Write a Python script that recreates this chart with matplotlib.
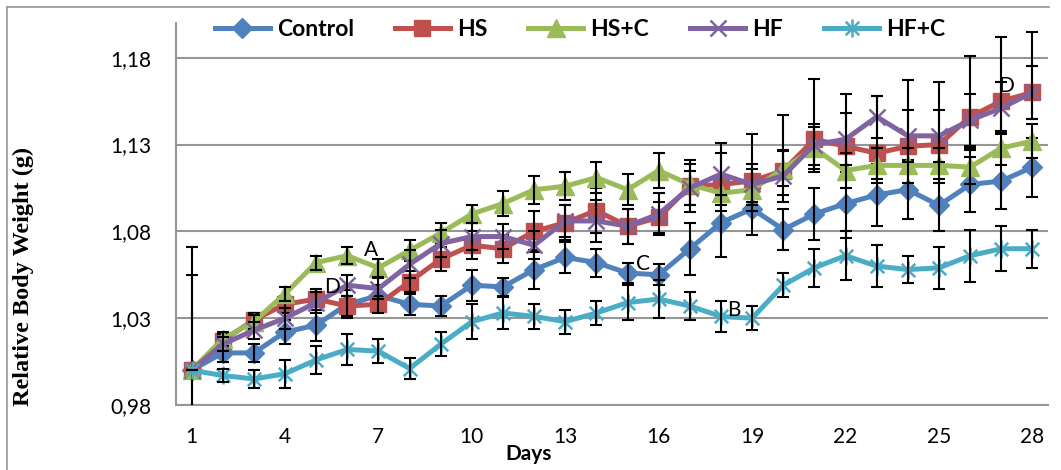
import numpy as np
import matplotlib
matplotlib.use('Agg')
import matplotlib.pyplot as plt
from matplotlib.path import Path
from matplotlib.lines import Line2D

# data
days = list(range(1, 29))

control = [1.000, 1.010, 1.010, 1.022, 1.026, 1.038, 1.043, 1.038, 1.037, 1.049,
           1.048, 1.058, 1.065, 1.062, 1.056, 1.055, 1.070, 1.085, 1.093, 1.081,
           1.090, 1.096, 1.101, 1.104, 1.095, 1.107, 1.109, 1.117]
hs = [1.000, 1.017, 1.029, 1.038, 1.041, 1.037, 1.038, 1.051, 1.064, 1.072,
      1.070, 1.080, 1.085, 1.092, 1.083, 1.088, 1.106, 1.107, 1.109, 1.115,
      1.133, 1.129, 1.125, 1.129, 1.130, 1.146, 1.155, 1.160]
hs_c = [1.000, 1.018, 1.028, 1.044, 1.062, 1.066, 1.059, 1.069, 1.079, 1.090,
        1.096, 1.104, 1.106, 1.111, 1.104, 1.115, 1.107, 1.102, 1.104, 1.116,
        1.128, 1.115, 1.118, 1.118, 1.118, 1.117, 1.128, 1.132]
hf = [1.000, 1.015, 1.023, 1.030, 1.039, 1.049, 1.047, 1.061, 1.073, 1.077,
      1.077, 1.072, 1.086, 1.086, 1.083, 1.090, 1.105, 1.113, 1.107, 1.112,
      1.130, 1.133, 1.146, 1.135, 1.135, 1.144, 1.151, 1.160]
hf_c = [1.000, 0.997, 0.995, 0.998, 1.006, 1.012, 1.011, 1.001, 1.015, 1.028,
        1.033, 1.031, 1.028, 1.033, 1.039, 1.041, 1.037, 1.031, 1.030, 1.049,
        1.059, 1.066, 1.060, 1.058, 1.059, 1.066, 1.070, 1.070]

control_err = [0.0, 0.005, 0.005, 0.007, 0.009, 0.008, 0.006, 0.006, 0.006, 0.009,
               0.005, 0.011, 0.009, 0.008, 0.006, 0.006, 0.015, 0.020, 0.015, 0.012,
               0.015, 0.020, 0.018, 0.017, 0.015, 0.016, 0.016, 0.017]
hs_err_up = [0.071, 0.004, 0.004, 0.005, 0.006, 0.006, 0.005, 0.006, 0.007, 0.008,
             0.008, 0.012, 0.010, 0.013, 0.010, 0.009, 0.015, 0.024, 0.027, 0.032,
             0.035, 0.030, 0.033, 0.038, 0.036, 0.035, 0.037, 0.035]
hs_err_low = [0.071, 0.004, 0.004, 0.005, 0.006, 0.006, 0.005, 0.006, 0.007, 0.008,
              0.008, 0.012, 0.010, 0.013, 0.010, 0.009, 0.015, 0.012, 0.012, 0.014,
              0.019, 0.015, 0.015, 0.015, 0.015, 0.018, 0.018, 0.015]
hs_c_err = [0.0, 0.004, 0.004, 0.004, 0.004, 0.005, 0.005, 0.006, 0.006, 0.005,
            0.007, 0.008, 0.008, 0.009, 0.009, 0.010, 0.012, 0.010, 0.012, 0.010,
            0.012, 0.010, 0.010, 0.010, 0.010, 0.010, 0.010, 0.010]
hf_err = [0.055, 0.004, 0.005, 0.006, 0.006, 0.006, 0.006, 0.008, 0.008, 0.008,
          0.007, 0.008, 0.009, 0.012, 0.010, 0.012, 0.010, 0.012, 0.012, 0.015,
          0.012, 0.015, 0.012, 0.015, 0.015, 0.015, 0.015, 0.015]
hf_c_err = [0.0, 0.004, 0.005, 0.008, 0.008, 0.009, 0.007, 0.006, 0.007, 0.010,
            0.009, 0.007, 0.007, 0.007, 0.010, 0.011, 0.008, 0.009, 0.007, 0.007,
            0.011, 0.014, 0.012, 0.008, 0.012, 0.015, 0.013, 0.011]

names = ['Control', 'HS', 'HS+C', 'HF', 'HF+C']
colors = ['#4F81BD', '#C0504D', '#9BBB59', '#8064A2', '#4BACC6']

xticks = [1, 4, 7, 10, 13, 16, 19, 22, 25, 28]
yticks = [0.98, 1.03, 1.08, 1.13, 1.18]

# letters written on the chart: (text, day, value)
letters = [('A', 6.75, 1.069), ('D', 5.5, 1.048), ('C', 15.5, 1.061),
           ('B', 18.4, 1.035), ('D', 27.15, 1.164)]

# excel style star marker: x with a vertical bar
star = Path([(0, -1), (0, 1), (-0.75, -0.75), (0.75, 0.75), (-0.75, 0.75), (0.75, -0.75)],
            [Path.MOVETO, Path.LINETO, Path.MOVETO, Path.LINETO, Path.MOVETO, Path.LINETO])

series = [control, hs, hs_c, hf, hf_c]
errors = [control_err, [hs_err_low, hs_err_up], hs_c_err, hf_err, hf_c_err]
markers = ['D', 's', '^', 'x', star]
msizes = [10.5, 11.5, 12.5, 11, 13]

plt.rcParams['font.family'] = 'Lato'

fig = plt.figure(figsize=(10.61, 4.70), dpi=100)
ax = fig.add_axes([176 / 1061, 1 - 405 / 470, (1048 - 176) / 1061, (405 - 23) / 470])

handles = []
for i, (vals, err) in enumerate(zip(series, errors)):
    h, = ax.plot(days, vals, color=colors[i], lw=3.6, marker=markers[i], ms=msizes[i],
                 mfc=colors[i], mec=colors[i], mew=1.8 if i >= 3 else 1,
                 zorder=3 + i, label=names[i])
    handles.append(h)
    ax.errorbar(days, vals, yerr=err, fmt='none', ecolor='black', elinewidth=1.5,
                capsize=4, capthick=1.5, zorder=3.5 + i)

for txt, x, y in letters:
    ax.text(x, y, txt, fontsize=15, ha='center', va='center', zorder=20)

ax.set_xlim(0.5, 28.5)
ax.set_ylim(0.98, 1.20)
ax.set_xticks(xticks)
ax.set_yticks(yticks)
ax.yaxis.set_major_formatter(plt.FuncFormatter(lambda v, p: f'{v:.2f}'.replace('.', ',')))
ax.tick_params(axis='both', length=0, labelsize=15)
ax.tick_params(axis='y', pad=18)
ax.tick_params(axis='x', pad=16)
ax.grid(axis='y', color='#969696', lw=1.5)
ax.set_axisbelow(True)
for s in ['top', 'right']:
    ax.spines[s].set_visible(False)
for s in ['left', 'bottom']:
    ax.spines[s].set_color('#969696')
    ax.spines[s].set_linewidth(1.5)

ax.set_ylabel('Relative Body Weight (g)', fontsize=17.5, fontweight='bold',
              family='Liberation Serif')
ax.yaxis.set_label_coords((34 - 176) / (1048 - 176), (405 - 276) / (405 - 23))
fig.text(529 / 1061, 1 - 460 / 470, 'Days', fontsize=15, fontweight='bold',
         ha='center', va='baseline')

fig.legend(handles=handles, loc='center', bbox_to_anchor=(580 / 1061, 1 - 30 / 470),
           ncol=5, frameon=False, prop={'size': 16.5, 'weight': 'bold'},
           handlelength=2.4, handletextpad=0.3, columnspacing=1.8)

# outer chart border (only top and left visible in the crop)
fig.add_artist(Line2D([7 / 1061, 7 / 1061], [0, 1 - 6.5 / 470], color='#969696', lw=1.2))
fig.add_artist(Line2D([7 / 1061, 1049 / 1061], [1 - 6.5 / 470, 1 - 6.5 / 470],
                      color='#969696', lw=1.2))

fig.savefig('out.png', dpi=100)
